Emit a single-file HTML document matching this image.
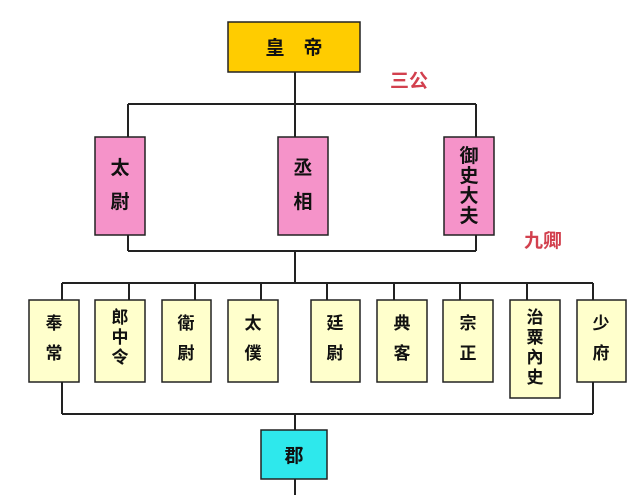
<!DOCTYPE html>
<html><head><meta charset="utf-8"><style>
body{margin:0;background:#fff;width:640px;height:495px;overflow:hidden}
svg text{font-family:"Liberation Sans","Noto Sans CJK SC",sans-serif;font-weight:600}
</style></head><body>
<svg width="640" height="495" viewBox="0 0 640 495" xmlns="http://www.w3.org/2000/svg">
<g stroke="#222" stroke-width="2" fill="none">
<line x1="295" y1="72" x2="295" y2="137"/>
<line x1="128" y1="104" x2="476" y2="104"/>
<line x1="128" y1="104" x2="128" y2="137"/>
<line x1="476" y1="104" x2="476" y2="137"/>
<line x1="128" y1="235" x2="128" y2="251"/>
<line x1="476" y1="235" x2="476" y2="251"/>
<line x1="128" y1="251" x2="476" y2="251"/>
<line x1="295" y1="251" x2="295" y2="283"/>
<line x1="62" y1="283" x2="593" y2="283"/>
<line x1="62" y1="283" x2="62" y2="300"/><line x1="129" y1="283" x2="129" y2="300"/>
<line x1="195" y1="283" x2="195" y2="300"/><line x1="261" y1="283" x2="261" y2="300"/>
<line x1="327" y1="283" x2="327" y2="300"/><line x1="394" y1="283" x2="394" y2="300"/>
<line x1="460" y1="283" x2="460" y2="300"/><line x1="527" y1="283" x2="527" y2="300"/>
<line x1="593" y1="283" x2="593" y2="300"/>
<line x1="62" y1="382" x2="62" y2="414"/><line x1="593" y1="382" x2="593" y2="414"/>
<line x1="62" y1="414" x2="593" y2="414"/>
<line x1="295" y1="414" x2="295" y2="430"/>
<line x1="295" y1="479" x2="295" y2="495"/>
</g>
<g stroke="#222" stroke-width="1.5">
<rect x="228" y="22" width="132" height="50" fill="#ffcc00"/>
<rect x="95" y="137" width="50" height="98" fill="#f593c9"/>
<rect x="278" y="137" width="50" height="98" fill="#f593c9"/>
<rect x="444" y="137" width="50" height="98" fill="#f593c9"/>
<g fill="#ffffcc">
<rect x="29" y="300" width="50" height="82"/><rect x="95" y="300" width="50" height="82"/>
<rect x="162" y="300" width="49" height="82"/><rect x="228" y="300" width="50" height="82"/>
<rect x="311" y="300" width="49" height="82"/><rect x="377" y="300" width="50" height="82"/>
<rect x="443" y="300" width="50" height="82"/><rect x="510" y="300" width="50" height="98"/>
<rect x="577" y="300" width="49" height="82"/>
</g>
<rect x="261" y="430" width="66" height="49" fill="#2ee8ec"/>
</g>
<g fill="#111" text-anchor="middle" font-size="19">
<text x="294" y="54">皇　帝</text>
<text x="120" y="174">太</text><text x="120" y="208">尉</text>
<text x="303" y="174">丞</text><text x="303" y="208">相</text>
<text x="469" y="162">御</text><text x="469" y="182">史</text><text x="469" y="202">大</text><text x="469" y="222">夫</text>
</g>
<g fill="#111" text-anchor="middle" font-size="17">
<text x="54" y="329">奉</text><text x="54" y="359">常</text>
<text x="120" y="323">郎</text><text x="120" y="343">中</text><text x="120" y="363">令</text>
<text x="186" y="329">衛</text><text x="186" y="359">尉</text>
<text x="253" y="329">太</text><text x="253" y="359">僕</text>
<text x="335" y="329">廷</text><text x="335" y="359">尉</text>
<text x="402" y="329">典</text><text x="402" y="359">客</text>
<text x="468" y="329">宗</text><text x="468" y="359">正</text>
<text x="535" y="323">治</text><text x="535" y="343">粟</text><text x="535" y="363">內</text><text x="535" y="383">史</text>
<text x="601" y="329">少</text><text x="601" y="359">府</text>
<text x="294" y="462" font-size="19">郡</text>
</g>
<g fill="#d2404e" font-size="19">
<text x="390" y="87">三公</text>
<text x="524" y="247">九卿</text>
</g>
</svg>
</body></html>
